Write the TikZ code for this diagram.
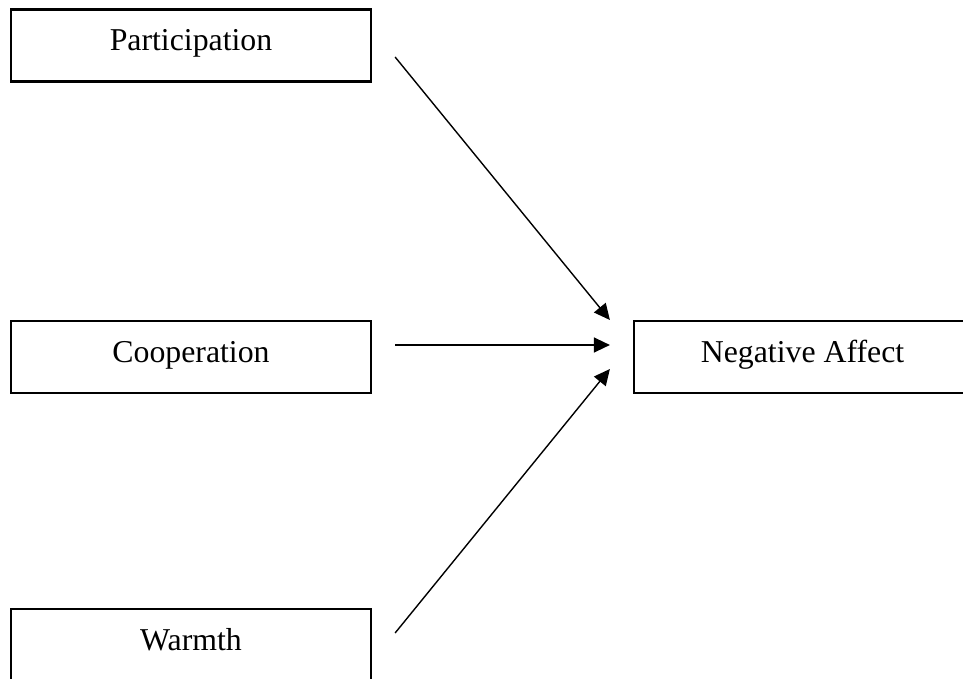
\documentclass[tikz,border=0pt]{standalone}
\usepackage{fontspec}
\setmainfont{Liberation Serif}
\usetikzlibrary{arrows.meta,calc}
\tikzset{
  varbox/.style={draw=black, line width=2.2pt, rectangle, minimum height=72pt,
    inner sep=0pt, text height=20pt, text depth=10pt,
    font=\fontsize{31.8}{38}\selectfont},
  patharrow/.style={draw=black, line width=1.4pt, -{Triangle[length=16pt,width=15pt]}}
}
\begin{document}
\begin{tikzpicture}[x=1pt,y=-1pt]
\useasboundingbox (0,0) rectangle (963,679);
\fill[white] (0,0) rectangle (963,679);
\node[varbox, minimum width=360pt] (part) at (191,45.5) {Participation};
\node[varbox, minimum width=360pt] (coop) at (191,357) {Cooperation};
\node[varbox, minimum width=360pt] (warm) at (191,645) {Warmth};
\node[varbox, minimum width=337pt] (neg) at (802.5,357) {Negative Affect};
\draw[patharrow] ($(part.east)+(23,11.5)$) -- ($(neg.west)+(-23,-37)$);
\draw[patharrow] ($(coop.east)+(23,-12)$) -- ($(neg.west)+(-23,-12)$);
\draw[patharrow] ($(warm.east)+(23,-12)$) -- ($(neg.west)+(-23,12)$);
\end{tikzpicture}
\end{document}
